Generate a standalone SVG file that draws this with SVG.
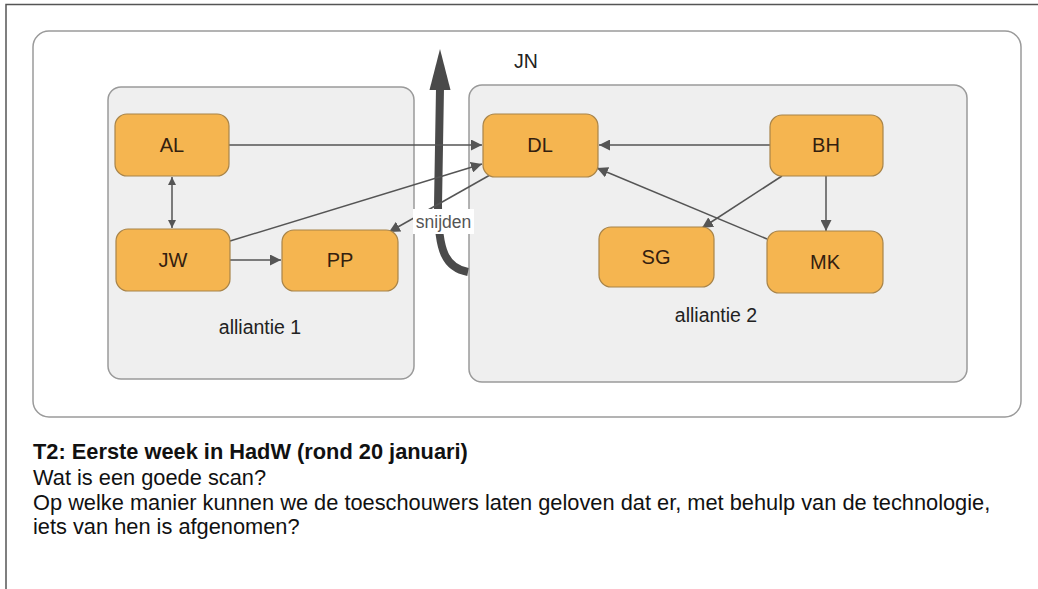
<svg xmlns="http://www.w3.org/2000/svg" width="1038" height="589" viewBox="0 0 1038 589">
<style>
.page{fill:none;stroke:#555;stroke-width:1.5}
.outer{fill:#ffffff;stroke:#9a9a9a;stroke-width:1.5}
.grp{fill:#efefef;stroke:#9a9a9a;stroke-width:1.5}
.node{fill:#f5b550;stroke:#a88449;stroke-width:1.2}
.nl{font-family:"Liberation Sans",Arial,sans-serif;font-size:20px;fill:#33200f;text-anchor:middle}
.gl{font-family:"Liberation Sans",Arial,sans-serif;font-size:19.5px;fill:#222;text-anchor:middle}
.edge{stroke:#555;stroke-width:1.5;fill:none}
.body{font-family:"Liberation Sans",Arial,sans-serif;font-size:21.8px;fill:#111}
</style>
<defs>
<marker id="ah" viewBox="0 0 10 10" refX="10" refY="5" markerWidth="8" markerHeight="8" markerUnits="userSpaceOnUse" orient="auto-start-reverse">
<path d="M0,0 L10,5 L0,10 z" fill="#555"/>
</marker>
<marker id="ah2" viewBox="0 0 10 10" refX="10" refY="5" markerWidth="11" markerHeight="11" markerUnits="userSpaceOnUse" orient="auto-start-reverse">
<path d="M0,0 L10,5 L0,10 z" fill="#555"/>
</marker>
</defs>
<rect width="1038" height="589" fill="#ffffff"/>
<path class="page" d="M6,589 L6,4.5 L1038,4.5"/>
<rect class="outer" x="33" y="31" width="988" height="386" rx="16"/>
<g id="alliantie1">
<rect class="grp" x="108" y="87" width="306" height="292" rx="13"/>
<text class="gl" x="260" y="334">alliantie 1</text>
</g>
<g id="alliantie2">
<rect class="grp" x="469" y="85" width="498" height="297" rx="13"/>
<text class="gl" x="716" y="322">alliantie 2</text>
</g>
<g id="JN">
<text class="gl" x="526" y="68">JN</text>
</g>
<g id="connectors">
<path d="M468,272 C446,268 438,252 438,205 L440,88" stroke="#4a4a4a" stroke-width="8" fill="none"/>
<path d="M440,49 L450.5,90 L429.5,90 z" fill="#4a4a4a"/>
<line class="edge" x1="229" y1="145" x2="482" y2="145" marker-end="url(#ah2)"/>
<line class="edge" x1="172" y1="177" x2="172" y2="228" marker-start="url(#ah)" marker-end="url(#ah)"/>
<line class="edge" x1="230" y1="260" x2="281" y2="260" marker-end="url(#ah2)"/>
<line class="edge" x1="230" y1="241" x2="482" y2="164" marker-end="url(#ah2)"/>
<line class="edge" x1="490" y1="175" x2="389" y2="232" marker-end="url(#ah2)"/>
<line class="edge" x1="770" y1="145" x2="599" y2="145" marker-end="url(#ah2)"/>
<line class="edge" x1="782" y1="176" x2="702" y2="228" marker-end="url(#ah2)"/>
<line class="edge" x1="826" y1="176" x2="826" y2="231" marker-end="url(#ah2)"/>
<line class="edge" x1="767" y1="239" x2="597" y2="168" marker-end="url(#ah2)"/>
<rect x="413" y="209" width="61" height="25" fill="#ffffff"/>
<text x="443.5" y="228" font-family="Liberation Sans, Arial, sans-serif" font-size="17.5px" fill="#555" text-anchor="middle">snijden</text>
</g>
<g id="AL"><rect class="node" x="115" y="114" width="114" height="62" rx="12"/><text class="nl" x="172" y="152">AL</text></g>
<g id="JW"><rect class="node" x="116" y="229" width="114" height="62" rx="12"/><text class="nl" x="173" y="267">JW</text></g>
<g id="PP"><rect class="node" x="282" y="230" width="116" height="61" rx="12"/><text class="nl" x="340" y="267">PP</text></g>
<g id="DL"><rect class="node" x="483" y="114" width="115" height="63" rx="12"/><text class="nl" x="540" y="152">DL</text></g>
<g id="BH"><rect class="node" x="770" y="115" width="113" height="61" rx="12"/><text class="nl" x="826" y="152">BH</text></g>
<g id="SG"><rect class="node" x="599" y="227" width="115" height="60" rx="12"/><text class="nl" x="656" y="264">SG</text></g>
<g id="MK"><rect class="node" x="767" y="231" width="116" height="62" rx="12"/><text class="nl" x="825" y="269">MK</text></g>
<g id="caption">
<text class="body" x="33" y="459" font-weight="bold">T2: Eerste week in HadW (rond 20 januari)</text>
<text class="body" x="33" y="485">Wat is een goede scan?</text>
<text class="body" x="33" y="510">Op welke manier kunnen we de toeschouwers laten geloven dat er, met behulp van de technologie,</text>
<text class="body" x="33" y="534">iets van hen is afgenomen?</text>
</g>
</svg>
